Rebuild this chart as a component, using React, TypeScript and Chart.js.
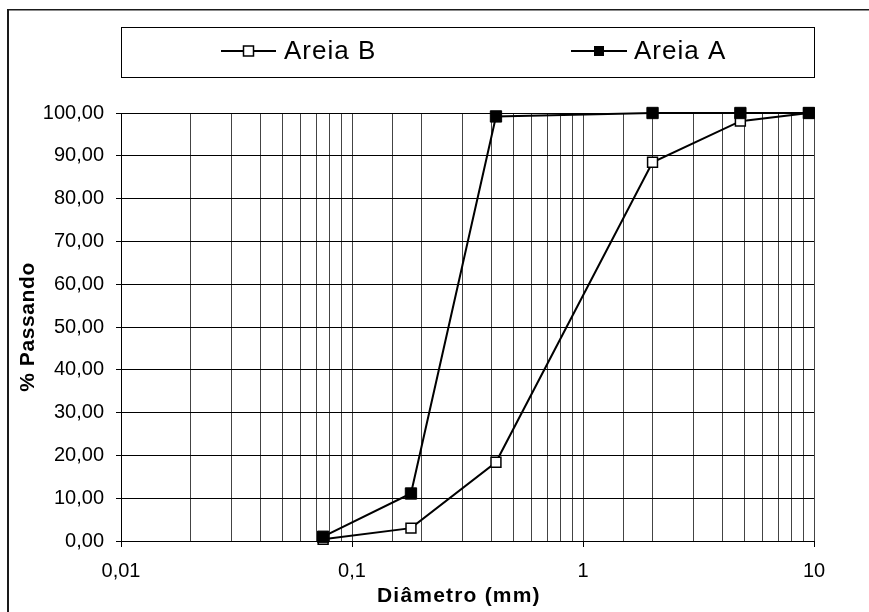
import React, { useEffect, useRef } from 'react';
import { Chart, registerables } from 'chart.js';

Chart.register(...registerables);

// ---- data ----
const diametros = [0.075, 0.18, 0.42, 2.0, 4.8, 9.5];
const areiaB = [0.4, 3.0, 18.4, 88.5, 98.1, 100];
const areiaA = [1.0, 11.1, 99.2, 100, 100, 100];
const seriesNames = ['Areia B', 'Areia A'];
const xTitle = 'Diâmetro (mm)';
const yTitle = '% Passando';
const xMin = 0.01;
const xMax = 10;
const yMin = 0;
const yMax = 100;
const yStep = 10;

const FONT = '"Liberation Sans", Arial, Helvetica, sans-serif';

const isPow10 = (v: number) => {
  const l = Math.log10(v);
  return Math.abs(l - Math.round(l)) < 1e-9;
};

function drawLegendItem(ctx: CanvasRenderingContext2D, x0: number, x1: number, y: number, filled: boolean, label: string, tx: number) {
  ctx.save();
  ctx.strokeStyle = '#000';
  ctx.lineWidth = 2;
  ctx.beginPath();
  ctx.moveTo(x0, y);
  ctx.lineTo(x1, y);
  ctx.stroke();
  const cx = (x0 + x1) / 2;
  const s = 10;
  if (filled) {
    ctx.fillStyle = '#000';
    ctx.fillRect(cx - s / 2, y - s / 2, s, s);
  } else {
    ctx.fillStyle = '#fff';
    ctx.fillRect(cx - s / 2, y - s / 2, s, s);
    ctx.lineWidth = 1.5;
    ctx.strokeRect(cx - s / 2, y - s / 2, s, s);
  }
  ctx.fillStyle = '#000';
  ctx.font = `26px ${FONT}`;
  (ctx as any).letterSpacing = '1px';
  ctx.textAlign = 'left';
  ctx.textBaseline = 'middle';
  ctx.fillText(label, tx, y + 1);
  ctx.restore();
}

const decoPlugin = {
  id: 'deco',
  beforeDraw(chart: any) {
    const ctx: CanvasRenderingContext2D = chart.ctx;
    ctx.save();
    ctx.fillStyle = '#fff';
    ctx.fillRect(0, 0, chart.width, chart.height);
    ctx.fillStyle = '#1a1a1a';
    ctx.fillRect(7, 9, 2, chart.height - 9);
    ctx.fillRect(7, 9, chart.width - 7, 1.5);
    ctx.restore();
  },
  afterDraw(chart: any) {
    const ctx: CanvasRenderingContext2D = chart.ctx;
    const a = chart.chartArea;
    ctx.save();
    // legend box
    ctx.strokeStyle = '#000';
    ctx.lineWidth = 1;
    ctx.strokeRect(a.left + 0.5, 27.5, a.right - a.left, 50);
    drawLegendItem(ctx, 221, 276, 51, false, seriesNames[0], 284);
    drawLegendItem(ctx, 571, 627, 51, true, seriesNames[1], 634);

    // axis titles
    ctx.fillStyle = '#000';
    ctx.font = `bold 21px ${FONT}`;
    (ctx as any).letterSpacing = '1.2px';
    ctx.textAlign = 'left';
    ctx.textBaseline = 'alphabetic';
    ctx.fillText(xTitle, 377, 602);

    ctx.translate(34, (a.top + a.bottom) / 2);
    ctx.rotate(-Math.PI / 2);
    ctx.textAlign = 'center';
    (ctx as any).letterSpacing = '0.6px';
    ctx.fillText(yTitle, 0, 0);
    ctx.restore();
  },
};

export default function App() {
  const ref = useRef<HTMLCanvasElement | null>(null);

  useEffect(() => {
    const canvas = ref.current;
    if (!canvas) return;
    const chart = new Chart(canvas, {
      type: 'scatter',
      data: {
        datasets: [
          {
            label: seriesNames[1],
            data: diametros.map((d, i) => ({ x: d, y: areiaA[i] })),
            showLine: true,
            borderColor: '#000',
            borderWidth: 2,
            pointStyle: 'rect',
            pointRadius: 8,
            pointBackgroundColor: '#000',
            pointBorderColor: '#000',
            pointBorderWidth: 1,
            tension: 0,
            clip: false,
          },
          {
            label: seriesNames[0],
            data: diametros.map((d, i) => ({ x: d, y: areiaB[i] })),
            showLine: true,
            borderColor: '#000',
            borderWidth: 2,
            pointStyle: 'rect',
            pointRadius: 7,
            pointBackgroundColor: '#fff',
            pointBorderColor: '#000',
            pointBorderWidth: 1.5,
            tension: 0,
            clip: false,
          },
        ],
      },
      options: {
        responsive: false,
        animation: false,
        devicePixelRatio: 1,
        events: [],
        layout: { padding: { left: 0, top: 113, right: 55, bottom: 0 } },
        plugins: {
          legend: { display: false },
          tooltip: { enabled: false },
          title: { display: false },
        },
        scales: {
          x: {
            type: 'logarithmic',
            min: xMin,
            max: xMax,
            afterFit: (s: any) => {
              s.height = 71;
            },
            border: { color: '#000', width: 1 },
            grid: {
              color: '#444',
              lineWidth: 1,
              tickLength: 6,
              tickColor: (ctx: any) => (ctx.tick && isPow10(ctx.tick.value) ? '#000' : 'rgba(0,0,0,0)'),
            },
            ticks: {
              autoSkip: false,
              maxRotation: 0,
              minRotation: 0,
              padding: 12,
              color: '#000',
              font: { family: FONT, size: 20 },
              callback: (v: any) => {
                const n = Number(v);
                return isPow10(n) ? String(n).replace('.', ',') : '';
              },
            },
          },
          y: {
            type: 'linear',
            min: yMin,
            max: yMax,
            afterFit: (s: any) => {
              s.width = 121;
            },
            border: { color: '#000', width: 1 },
            grid: {
              color: '#000',
              lineWidth: 1,
              tickLength: 5,
              tickColor: '#000',
            },
            ticks: {
              stepSize: yStep,
              padding: 12,
              color: '#000',
              font: { family: FONT, size: 20 },
              callback: (v: any) => Number(v).toFixed(2).replace('.', ','),
            },
          },
        },
      },
      plugins: [decoPlugin],
    });
    return () => chart.destroy();
  }, []);

  return (
    <canvas
      ref={ref}
      width={869}
      height={612}
      style={{ position: 'fixed', left: 0, top: 0, width: 869, height: 612, display: 'block' }}
    />
  );
}
